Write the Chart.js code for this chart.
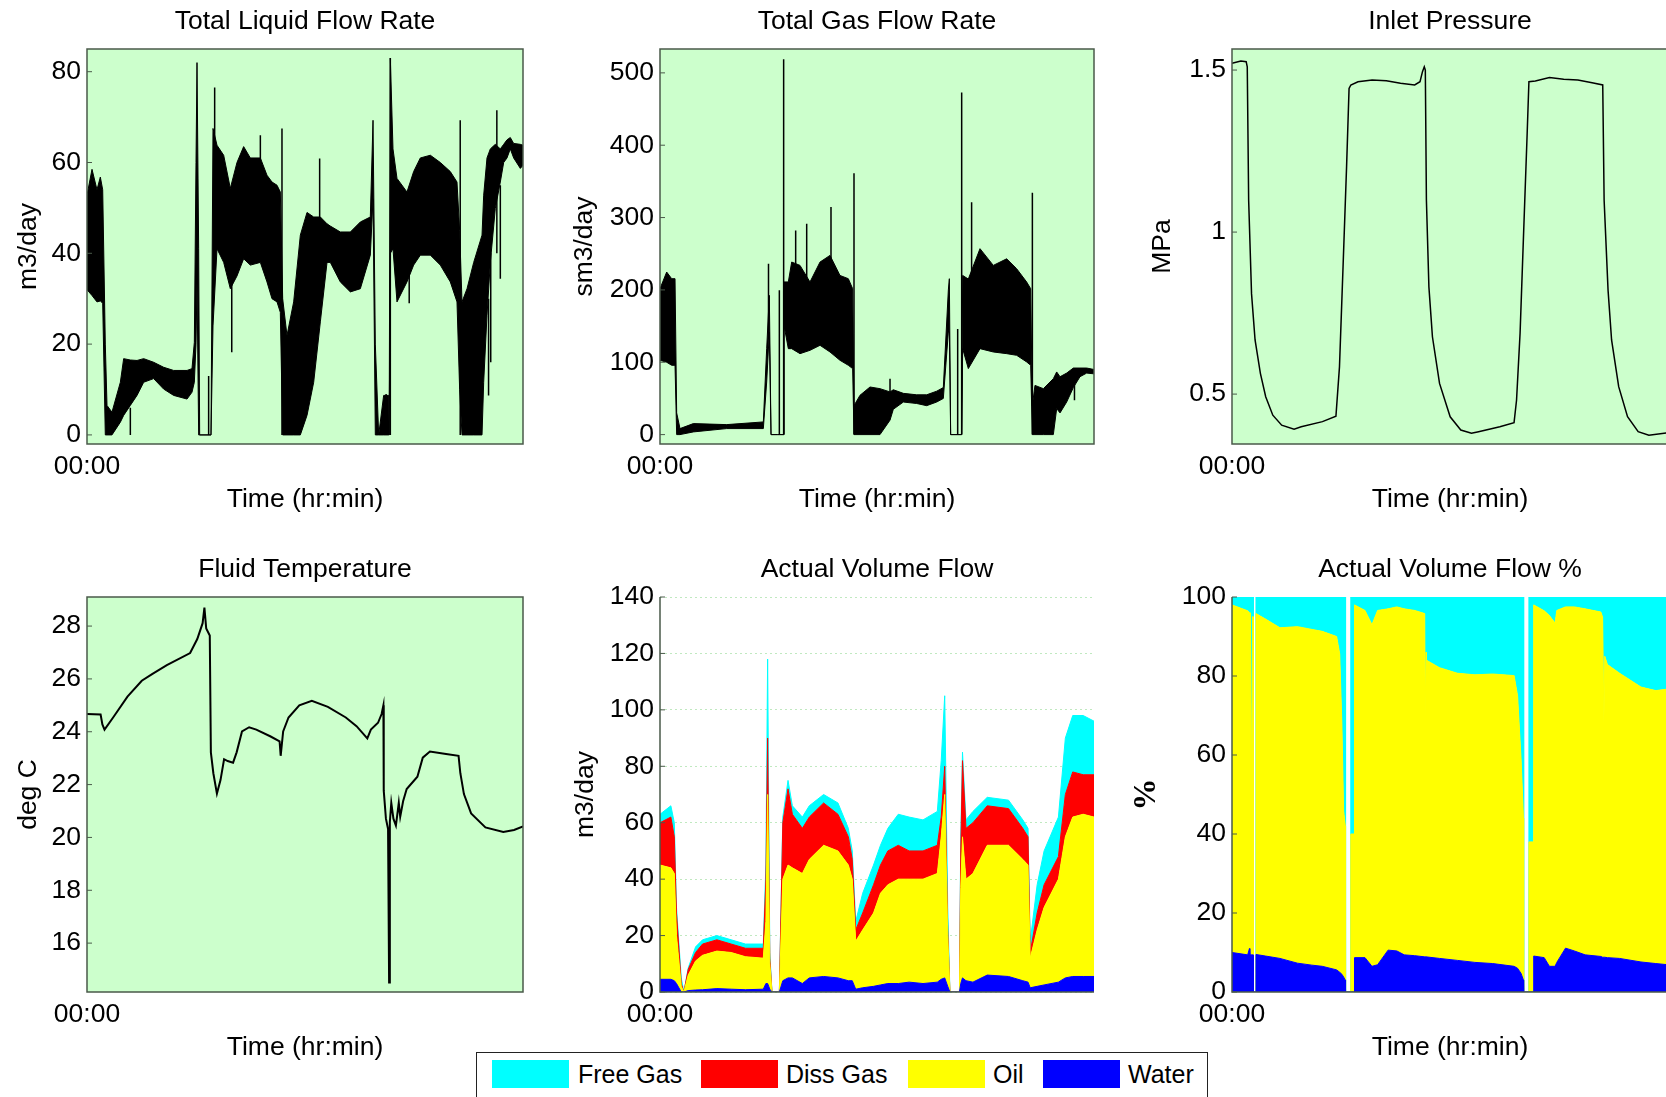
<!DOCTYPE html>
<html>
<head>
<meta charset="utf-8">
<title>Flow loop test</title>
<script src="https://cdn.jsdelivr.net/npm/chart.js@4.4.0/dist/chart.umd.min.js"></script>
<style>
    html, body { margin: 0; padding: 0; background: #fff; }
    body { position: relative; width: 1666px; height: 1097px; overflow: hidden;
           font-family: 'Liberation Sans', Arial, sans-serif; }
    canvas { position: absolute; }
    #legend { position: absolute; left: 476px; top: 1052px; width: 730px; height: 70px;
              border: 1.5px solid #222; background: #fff; }
    #legend .sw { position: absolute; top: 7px; width: 77px; height: 28px; }
    #legend .lb { position: absolute; top: 6px; font-size: 25px; line-height: 30px; color: #000; }
</style>
</head>
<body>

<div id="legend">
    <div class="sw" style="left:15px;background:#00ffff"></div><div class="lb" style="left:101px">Free Gas</div>
    <div class="sw" style="left:224px;background:#ff0000"></div><div class="lb" style="left:309px">Diss Gas</div>
    <div class="sw" style="left:431px;background:#ffff00"></div><div class="lb" style="left:516px">Oil</div>
    <div class="sw" style="left:566px;background:#0000ff"></div><div class="lb" style="left:651px">Water</div>
</div>

<script>
// time axis runs 0..100 (% of the test window), only the start is labelled
var timeTicks = [0];
var timeLabels = ['00:00'];

// Total Liquid Flow Rate (m3/day) - noisy band, lower / upper edge
var liqT  = [0,1.15,2.29,3.06,3.6,4.2,4.59,5.73,7.65,8.41,9.94,11.47,13.0,15.29,17.58,19.88,22.94,24.08,24.62,25.0,25.23,25.61,25.84,28.44,28.9,29.82,31.35,32.87,34.4,35.93,37.46,39.76,41.28,42.43,43.58,44.34,44.88,45.87,47.4,48.93,50.46,51.99,53.52,55.05,55.81,58.1,60.4,62.69,64.98,65.6,66.13,66.9,68.04,69.19,69.3,69.57,70.18,71.1,73.39,74.92,76.45,78.75,81.04,83.33,84.86,85.47,86.01,87.16,88.69,90.6,90.98,91.74,92.51,93.65,94.8,95.57,96.33,97.09,97.86,99.39,100];
var liqLo = [32,30.7,29.3,29.5,29,0,0,0,2.8,4.3,6.5,8.7,11.6,12.4,10.1,8.7,7.9,9.4,11.6,20,33.7,0,0,0,24,41,38,32.2,35,38.8,37.4,38,33.7,30,29.3,27,0,0,0,0,4.3,11.6,24.9,38,38,33.7,31.5,32.2,39.6,52,0,0,0,0,0,40,41,29.3,33.7,37.4,39.6,39.6,37.4,33.7,29.3,10,0,0,0,0,11.6,26.3,38,49.9,55.7,60,61,63,61,58.7,59.4];
var liqHi = [52.8,58.5,54,56.8,54,20,6.5,5,11.6,16.8,16.5,16.4,16.8,16,14.9,14.2,14.2,14.6,20.4,60,82,41,0,0,67.5,63.8,61.6,54.3,60,63.5,61,61,57.2,55.7,55,53.5,30,21.9,29.3,44,49,48,48,46.5,46,44.7,44.7,46.9,48,69.3,20,0,8.7,8.7,0,83,63,56.5,53.5,58,61,61.6,60,58,55.7,45,29.3,32.2,38,44,52.8,61,63,64,63,64,65,65.5,64.2,64,63.8];
var liqSpikeT  = [9.94,27.9,29.28,33.2,39.76,44.72,52.75,53.36,68.6,69.57,73.9,85.6,92.1,92.6,94.0,94.8];
var liqSpikeLo = [0,0,50,18.2,55,0,21,40,0,0,29,0,8.7,16,40,34.4];
var liqSpikeHi = [6,13,76.5,40,66,67.5,40,60.9,9,83,40,69.3,30,40,71.5,55];
var liqTicks = [0,20,40,60,80];

// Total Gas Flow Rate (sm3/day)
var gasT  = [0,1.54,2.69,3.46,3.84,4.61,7.68,15.36,23.81,24.58,25.19,25.58,27.04,28.45,28.57,29.57,30.34,32.26,34.56,36.87,39.17,41.47,43.39,44.39,44.7,46.08,48.39,50.69,53.0,53.76,56.07,59.14,61.44,63.75,65.28,66.44,66.67,66.97,69.51,69.74,71.04,73.73,76.8,79.88,82.18,84.49,85.41,85.79,86.4,88.33,90.63,91.4,92.17,93.7,95.24,96.77,98.31,100];
var gasLo = [102.7,100,95.8,95.8,0,0,3.7,8.3,8.3,72.7,141.8,0,0,0,151,118.8,118.8,111.9,116.5,123.4,114.2,102.7,95.8,91.2,0,0,0,0,20,35,45,43,40,45,50,141.8,141.8,0,0,118.8,91.2,118.8,114.2,111.9,109.6,100.4,95.8,0,0,0,0,35.9,30,45,65,80,85,84];
var gasHi = [201.7,224.7,215.5,215.5,30,8.3,15.2,13.8,17.5,118.8,192.5,0,0,0,211,211,238.5,233.9,210.9,238.5,247.7,220,215.5,201.7,40,54.3,65.8,63.5,59,62,57,55,55,60,65,200,215.5,0,0,220,215,257,233.9,243,229.3,210.9,201.7,40,68,63.5,77.3,86.6,80,85,92,92,92,90];
var gasSpikeT  = [25.0,27.5,28.49,31.26,33.8,39.4,44.7,53.0,68.59,69.51,71.8,85.8,95.5];
var gasSpikeLo = [140,0,0,150,150,150,0,30,0,0,150,0,47.4];
var gasSpikeHi = [236,199.4,519,282,291.4,314.5,361.4,77.3,146,473,321,334.3,70];
var gasTicks = [0,100,200,300,400,500];

// Inlet Pressure (MPa)
var presT = [0,2.03,3.25,3.50,3.82,4.48,5.29,6.51,7.73,9.36,11.39,14.24,15.87,20.75,23.84,24.65,25.47,26.28,26.85,27.26,28.89,32.14,35.40,38.65,41.90,43.12,43.69,44.10,44.34,44.59,45.16,45.97,47.60,50.04,52.48,54.92,56.55,61.43,64.69,65.26,66.07,66.88,67.70,68.10,69.57,72.82,76.08,79.33,82.59,85.03,85.35,86.25,87.06,88.69,90.72,93.16,95.61,100];
var presV = [1.521,1.528,1.526,1.510,1.098,0.810,0.667,0.564,0.492,0.435,0.404,0.392,0.399,0.415,0.432,0.584,0.893,1.202,1.443,1.454,1.464,1.469,1.467,1.459,1.454,1.464,1.495,1.510,1.500,1.098,0.831,0.677,0.533,0.430,0.389,0.379,0.384,0.399,0.412,0.481,0.687,0.996,1.305,1.464,1.466,1.477,1.472,1.469,1.461,1.454,1.098,0.821,0.667,0.523,0.430,0.384,0.373,0.381];
var presTicks = [0.5,1,1.5];

// Fluid Temperature (deg C)
var tempT = [0,3.12,3.53,4.02,5.99,9.28,12.56,15.02,18.31,23.65,25.29,26.52,26.93,27.34,28.16,28.41,28.98,29.80,30.62,31.44,32.27,33.50,34.32,35.55,37.19,38.83,42.12,44.17,44.42,44.99,46.22,48.69,51.56,55.25,59.36,61.82,64.29,65.11,66.75,67.57,67.98,68.06,68.56,69.05,69.29,69.46,69.79,70.28,70.85,71.51,71.84,72.50,73.32,75.78,77.01,78.65,82.35,85.22,85.63,86.45,88.10,91.38,95.48,97.95,100];
var tempV = [24.67,24.65,24.28,24.08,24.54,25.33,25.93,26.19,26.52,26.98,27.51,28.11,28.70,27.91,27.64,23.22,22.43,21.66,22.17,22.96,22.89,22.83,23.22,24.01,24.17,24.08,23.82,23.64,23.09,24.01,24.54,25.00,25.17,24.94,24.54,24.21,23.75,24.08,24.34,24.67,25.00,21.77,20.71,20.32,14.51,20.58,21.31,20.71,20.45,21.31,20.78,21.37,21.83,22.30,23.02,23.25,23.16,23.09,22.43,21.64,20.91,20.38,20.21,20.28,20.42];
var tempTicks = [16,18,20,22,24,26,28];

// Actual Volume Flow (m3/day), one value per phase
var volT     = [0,2.5,3.3,3.8,4.9,5.5,6.5,8.2,9.8,13.1,16.4,19.7,23.8,24.4,24.8,25.3,25.8,27.5,28.3,29.5,30.5,32.8,34.4,37.7,41.0,43.4,44.3,45.1,46.7,49.2,50.8,52.5,54.9,57.4,60.6,63.9,64.8,65.6,66.3,66.8,69.0,69.3,69.7,70.5,72.1,75.4,80.3,83.6,84.8,85.3,86.9,88.5,91.8,93.4,95.1,97.5,100];
var volWater = [4.5,4.5,4,3,0,0,0.5,0.7,0.8,1.2,1,0.8,1,3,3,1,0,0,4,5,5,3,5,5.5,5,4,4,1,1.5,2,2.5,3,3,3.5,3,3.5,4.5,5,2,0,0,3,5,4,3.5,6,5.5,4,3.5,1.5,2,2.5,3.5,5,5.5,5.5,5.5];
var volOil   = [40.5,39.5,38,17,2,0,5.5,10.3,12.2,13.3,13,11.7,11,22,67,9,0,0,36,40,39,39,42,46.5,45,41,36,17,20.5,26,32.5,35,37,36.5,37,38.5,50.5,65,18,0,0,34,50,36,38.5,46,46.5,43,41.5,10.5,20,27.5,36.5,50,56.5,57.5,56.5];
var volDiss  = [15,18,13,8,1,0,2,3,4,4,3,3,3.5,15,20,2,0,0,20,27,19,16,15,15,13,10,7,4,6,10,10,12,12,10,10,10,7,10,2,0,0,13,27,18,18,14,13,11,10,2,6,8,8,15,16,14,15];
var volFree  = [3,4,5,2,2,0,0.5,2,1.5,1.5,1.5,1.5,1.5,5,28,2,0,0,2,3,3,4,4,3,4,3,3,3,7,7,7,8,11,12,11,12,20,25,8,0,0,5,3,3,4,3,3,3,3,4,10,12,14,20,20,21,19];
var volTicks = [0,20,40,60,80,100,120,140];

// Actual Volume Flow % (diss gas share is negligible here)
var pctT     = [0,3.6,4.0,4.1,4.2,4.55,4.7,4.85,4.9,5.45,5.5,7.7,11.0,15.0,18.3,20.7,24.0,24.7,25.2,25.6,26.0,26.05,27.2,27.25,28.05,28.1,30.5,32.1,33.4,35.8,37.8,39.5,41.9,44.2,44.3,44.5,44.6,47.6,51.7,55.7,59.8,64.7,65.5,66.3,66.85,66.9,68.05,68.1,69.15,69.2,71.6,72.8,74.1,74.5,76.5,78.5,81.0,84.6,85.0,85.3,85.5,86.1,88.9,93.8,97.2,100];
var pctWater = [10,9.4,11,9.4,9.4,9.4,9.4,9.4,0,0,9.5,9.1,8.5,7.3,6.8,6.5,5.6,5,4.5,3.8,3,0,0,0,0,8.7,8.7,6.5,6.9,10.6,10.4,9.4,9.2,8.9,8.9,8.9,8.9,8.5,8,7.5,7.2,6.5,6,4.7,3,0,0,0,0,9.1,8.7,6.5,6.5,7.5,11.1,10.4,9.4,9,8.8,8.8,8.8,8.7,8.5,7.6,7.2,6.9];
var pctOil   = [88,87.1,85,62.6,86.6,38.6,85.6,85.6,0,0,86.3,85.3,83.7,85.2,85,84.8,84.4,80.6,63.4,42,39,0,0,40,40,89.3,87.9,86.5,89.7,86.4,87.1,87.6,87.4,86.9,61.1,77.1,75.1,73.6,72.7,72.8,73.3,73.6,69,54.3,41,0,0,38,38,88.9,87.8,88.8,86.9,89.1,86.4,87.1,87.6,87.2,86.1,59.2,76.2,74.2,72.2,69.6,69.1,69.8];
var pctFree  = [2,3.5,4,28,4,52,5,5,0,0,4.2,5.6,7.8,7.5,8.2,8.7,10,14.4,32.1,54.2,58,0,0,60,60,2,3.4,7,3.4,3,2.5,3,3.4,4.2,30,14,16,17.9,19.3,19.7,19.5,19.9,25,41,56,0,0,62,62,2,3.5,4.7,6.6,3.4,2.5,2.5,3,3.8,5.1,32,15,17.1,19.3,22.8,23.7,23.3];
var pctTicks = [0,20,40,60,80,100];

var FONT = "'Liberation Sans', Arial, sans-serif";
var FONT_SIZE = 26.5;
var PAD_TOP = 45;
var PAD_BOTTOM = 72;
var PAD_RIGHT = 10;

Chart.defaults.font.family = FONT;
Chart.defaults.font.size = FONT_SIZE;
Chart.defaults.color = '#000';

// plot background, axes box, inward ticks and the title above each panel
var panelPlugin = {
    id: 'panel',
    beforeDraw: function (chart, args, opts) {
        var a = chart.chartArea;
        var ctx = chart.ctx;
        ctx.save();
        ctx.fillStyle = opts.background;
        ctx.fillRect(a.left, a.top, a.right - a.left, a.bottom - a.top);
        ctx.restore();
    },
    afterDraw: function (chart, args, opts) {
        var a = chart.chartArea;
        var ctx = chart.ctx;
        ctx.save();
        ctx.strokeStyle = '#4a5a4a';
        ctx.lineWidth = 1.5;
        ctx.beginPath();
        if (opts.box) {
            ctx.rect(a.left, a.top, a.right - a.left, a.bottom - a.top);
        } else {
            ctx.moveTo(a.left, a.top);
            ctx.lineTo(a.left, a.bottom);
            ctx.lineTo(a.right, a.bottom);
        }
        ctx.stroke();

        var y = chart.scales.y;
        ctx.lineWidth = 1;
        y.ticks.forEach(function (t) {
            var py = y.getPixelForValue(t.value);
            ctx.beginPath();
            ctx.moveTo(a.left, py);
            ctx.lineTo(a.left + 5, py);
            ctx.stroke();
        });

        ctx.fillStyle = '#000';
        ctx.font = FONT_SIZE + 'px ' + FONT;
        ctx.textAlign = 'center';
        ctx.textBaseline = 'middle';
        ctx.fillText(opts.title, (a.left + a.right) / 2, a.top - 27);
        ctx.restore();
    }
};
Chart.register(panelPlugin);

function pts(t, v) {
    return t.map(function (x, i) { return { x: x, y: v[i] }; });
}

// vertical strokes, broken apart with null points
function spikePts(t, lo, hi) {
    var out = [];
    for (var i = 0; i < t.length; i++) {
        out.push({ x: t[i], y: lo[i] }, { x: t[i], y: hi[i] }, { x: t[i], y: null });
    }
    return out;
}

function bandSets(t, lo, hi, spT, spLo, spHi) {
    return [
        { data: pts(t, hi), borderColor: '#000', borderWidth: 1, fill: false },
        { data: pts(t, lo), borderColor: '#000', borderWidth: 1, backgroundColor: '#000', fill: '-1' },
        { data: spikePts(spT, spLo, spHi), borderColor: '#000', borderWidth: 1.5, fill: false, spanGaps: false }
    ];
}

function lineSets(t, v, width) {
    return [{ data: pts(t, v), borderColor: '#000', borderWidth: width, fill: false }];
}

// stacked areas, layers given bottom to top
function stackSets(t, layers) {
    var run = t.map(function () { return 0; });
    return layers.map(function (layer, k) {
        run = run.map(function (s, i) { return s + layer.values[i]; });
        return {
            data: pts(t, run),
            borderColor: layer.color,
            borderWidth: 1,
            backgroundColor: layer.color,
            fill: k === 0 ? 'origin' : '-1'
        };
    });
}

function createPanel(p) {
    var canvas = document.createElement('canvas');
    var w = p.plot[2] + p.padLeft + PAD_RIGHT;
    var h = p.plot[3] + PAD_TOP + PAD_BOTTOM;
    canvas.width = w;
    canvas.height = h;
    canvas.style.width = w + 'px';
    canvas.style.height = h + 'px';
    canvas.style.left = (p.plot[0] - p.padLeft) + 'px';
    canvas.style.top = (p.plot[1] - PAD_TOP) + 'px';
    document.body.appendChild(canvas);

    var grid = p.grid || { display: false };
    grid.drawTicks = false;

    return new Chart(canvas, {
        type: 'line',
        data: { datasets: p.datasets },
        options: {
            responsive: false,
            devicePixelRatio: 1,
            animation: false,
            events: [],
            layout: { padding: { top: PAD_TOP, right: PAD_RIGHT, left: 0, bottom: 0 } },
            elements: { point: { radius: 0 }, line: { tension: 0 } },
            plugins: {
                legend: { display: false },
                tooltip: { enabled: false },
                panel: { title: p.title, background: p.background, box: p.box }
            },
            scales: {
                x: {
                    type: 'linear',
                    min: 0,
                    max: 100,
                    grid: { display: false, drawTicks: false },
                    border: { display: false },
                    ticks: {
                        padding: 7,
                        maxRotation: 0,
                        autoSkip: false,
                        callback: function (v) {
                            var k = timeTicks.indexOf(v);
                            return k >= 0 ? timeLabels[k] : '';
                        }
                    },
                    afterBuildTicks: function (s) {
                        s.ticks = timeTicks.map(function (v) { return { value: v }; });
                    },
                    afterFit: function (s) { s.height = PAD_BOTTOM; },
                    title: { display: p.xTitle, text: 'Time (hr:min)', padding: 0 }
                },
                y: {
                    min: p.yMin,
                    max: p.yMax,
                    grid: grid,
                    border: { display: false, dash: [2, 3] },
                    ticks: {
                        padding: 6,
                        callback: function (v) { return String(v); }
                    },
                    afterBuildTicks: function (s) {
                        s.ticks = p.ticks.map(function (v) { return { value: v }; });
                    },
                    afterFit: function (s) { s.width = p.padLeft; },
                    title: { display: true, text: p.yTitle, padding: 0, font: p.yTitleFont }
                }
            }
        }
    });
}

var GREEN = '#ccffcc';

createPanel({
    title: 'Total Liquid Flow Rate', plot: [87, 49, 436, 395], padLeft: 74,
    yMin: -2, yMax: 85, ticks: liqTicks, yTitle: 'm3/day', xTitle: true,
    background: GREEN, box: true,
    datasets: bandSets(liqT, liqLo, liqHi, liqSpikeT, liqSpikeLo, liqSpikeHi)
});

createPanel({
    title: 'Total Gas Flow Rate', plot: [660, 49, 434, 395], padLeft: 91,
    yMin: -13, yMax: 533, ticks: gasTicks, yTitle: 'sm3/day', xTitle: true,
    background: GREEN, box: true,
    datasets: bandSets(gasT, gasLo, gasHi, gasSpikeT, gasSpikeLo, gasSpikeHi)
});

createPanel({
    title: 'Inlet Pressure', plot: [1232, 49, 436, 395], padLeft: 85,
    yMin: 0.346, yMax: 1.565, ticks: presTicks, yTitle: 'MPa', xTitle: true,
    background: GREEN, box: true,
    datasets: lineSets(presT, presV, 1.5)
});

createPanel({
    title: 'Fluid Temperature', plot: [87, 597, 436, 395], padLeft: 74,
    yMin: 14.15, yMax: 29.1, ticks: tempTicks, yTitle: 'deg C', xTitle: true,
    background: GREEN, box: true,
    datasets: lineSets(tempT, tempV, 2)
});

createPanel({
    title: 'Actual Volume Flow', plot: [660, 597, 434, 395], padLeft: 90,
    yMin: 0, yMax: 140, ticks: volTicks, yTitle: 'm3/day', xTitle: false,
    background: '#ffffff', box: false,
    grid: { display: true, color: 'rgba(140,215,140,0.55)', lineWidth: 1 },
    datasets: stackSets(volT, [
        { values: volWater, color: '#0000ff' },
        { values: volOil, color: '#ffff00' },
        { values: volDiss, color: '#ff0000' },
        { values: volFree, color: '#00ffff' }
    ])
});

createPanel({
    title: 'Actual Volume Flow %', plot: [1232, 597, 436, 395], padLeft: 104,
    yMin: 0, yMax: 100, ticks: pctTicks, yTitle: '%', xTitle: true,
    yTitleFont: { family: "'Liberation Serif', 'Times New Roman', serif", size: 32, weight: 'bold' },
    background: '#ffffff', box: false,
    datasets: stackSets(pctT, [
        { values: pctWater, color: '#0000ff' },
        { values: pctOil, color: '#ffff00' },
        { values: pctFree, color: '#00ffff' }
    ])
});
</script>
</body>
</html>
